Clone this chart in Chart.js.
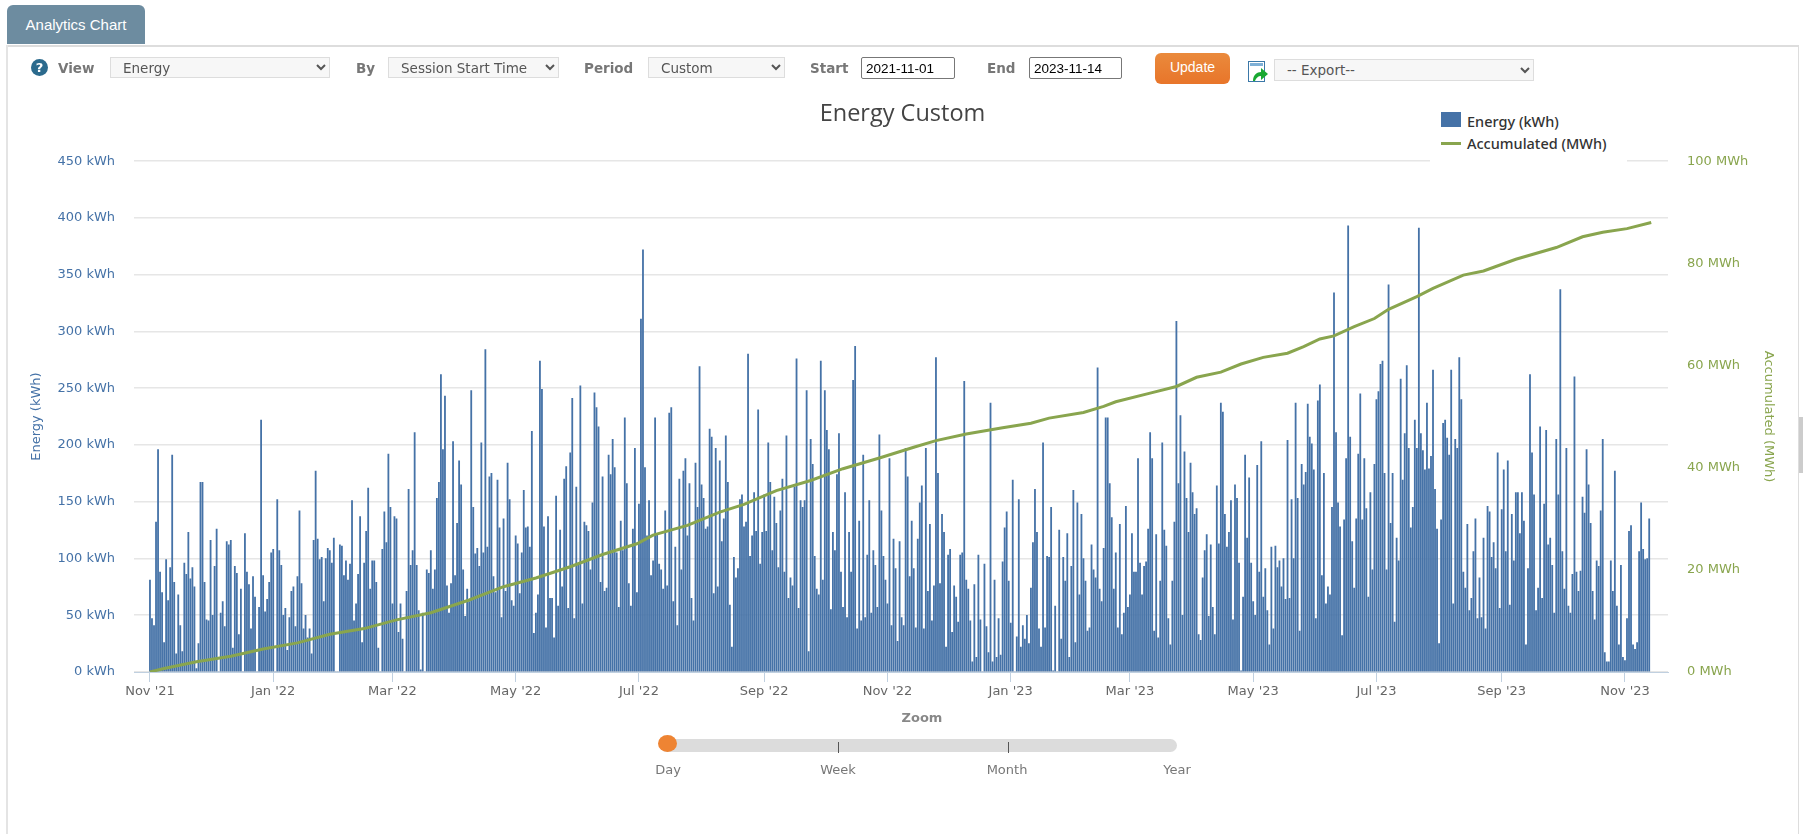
<!DOCTYPE html>
<html>
<head>
<meta charset="utf-8">
<title>Analytics Chart</title>
<script src="https://cdn.jsdelivr.net/npm/chart.js@4/dist/chart.umd.min.js"></script>
<style>
html, body { margin: 0; padding: 0; background: #fff; overflow: hidden; }
body { width: 1803px; height: 834px; position: relative; font-family: "DejaVu Sans", sans-serif; }
#chartCanvas { position: absolute; left: 0; top: 0; }
.abs { position: absolute; }
.tab { left: 7px; top: 5px; width: 138px; height: 39px; background: #6d8ca0; border-radius: 6px 6px 0 0; color: #fff;
       font: 15px/39px "Liberation Sans", sans-serif; text-align: center; }
.rule { left: 7px; top: 45px; width: 1791px; height: 2px; background: #ddd; }
.sideL { left: 6px; top: 45px; width: 2px; height: 789px; background: #e4e4e4; }
.sideR { left: 1798px; top: 45px; width: 1px; height: 789px; background: #ddd; }
.thumb { left: 1799px; top: 417px; width: 4px; height: 56px; background: #ccc; }
.help { left: 31px; top: 59px; width: 17px; height: 17px; border-radius: 50%; background: #2b6a8d; color: #fff;
        font: bold 13px/17px "DejaVu Sans", sans-serif; text-align: center; }
.lbl { top: 59px; font: bold 13.5px/18px "DejaVu Sans", sans-serif; color: #777; }
select { position: absolute; box-sizing: border-box; background: #f7f7f7; border: 1px solid #ddd; color: #555;
         font: 13.5px "DejaVu Sans", sans-serif; padding-left: 8px; border-radius: 0; margin: 0; }
input.date { position: absolute; box-sizing: border-box; top: 57px; height: 22px; border: 1px solid #777; border-radius: 2px;
         font: 13.5px "Liberation Sans", sans-serif; color: #000; padding: 0 4px; margin: 0; }
.update { left: 1155px; top: 53px; width: 75px; height: 31px; border-radius: 6px; color: #fff; text-align: center;
          background: linear-gradient(#ea8a3c, #e8752a); font: 14px/29px "Liberation Sans", sans-serif; }
.legend { left: 1430px; top: 105px; width: 197px; height: 59px; background: #fff; }
.legend .row { position: absolute; left: 37px; font: 500 14.5px/20px "Noto Sans", sans-serif; color: #333; white-space: nowrap; }
.legend .swatch { position: absolute; left: 11px; width: 20px; }
.zoomLabel { left: 822px; width: 200px; top: 709px; text-align: center; font: bold 13px/18px "DejaVu Sans", sans-serif; color: #888; }
.track { left: 660px; top: 739px; width: 517px; height: 13px; background: #dcdcdc; border-radius: 7px; }
.sep { top: 742px; width: 1px; height: 11px; background: #555; }
.knob { left: 658px; top: 735px; width: 19px; height: 17px; border-radius: 50%; background: #ee8433; }
.stop { top: 761px; width: 80px; text-align: center; font: 13px/18px "DejaVu Sans", sans-serif; color: #777; }
</style>
</head>
<body>
<canvas id="chartCanvas" width="1803" height="834"></canvas>

<div class="abs tab">Analytics Chart</div>
<div class="abs rule"></div>
<div class="abs sideL"></div>
<div class="abs sideR"></div>
<div class="abs thumb"></div>

<div class="abs help">?</div>
<div class="abs lbl" style="left:58px">View</div>
<select style="left:110px;top:57px;width:220px;height:21px"><option>Energy</option></select>
<div class="abs lbl" style="left:356px">By</div>
<select style="left:388px;top:57px;width:171px;height:21px"><option>Session Start Time</option></select>
<div class="abs lbl" style="left:584px">Period</div>
<select style="left:648px;top:57px;width:137px;height:21px"><option>Custom</option></select>
<div class="abs lbl" style="left:810px">Start</div>
<input class="date" style="left:861px;width:94px" value="2021-11-01">
<div class="abs lbl" style="left:987px">End</div>
<input class="date" style="left:1029px;width:93px" value="2023-11-14">
<div class="abs update">Update</div>
<svg class="abs" style="left:1248px;top:61px" width="20" height="21" viewBox="0 0 20 21">
  <rect x="0.5" y="0.5" width="16" height="20" fill="#fff" stroke="#3b78a8"/>
  <rect x="2" y="2" width="13" height="3" fill="#7fb0d6"/>
  <path d="M5 20 C5 14 9 11 13 11 L13 7 L20 13 L13 19 L13 15 C10 15 8 17 7 20 Z" fill="#19a832"/>
</svg>
<select style="left:1274px;top:59px;width:260px;height:22px"><option>-- Export--</option></select>

<div class="abs legend" id="legendBox"></div>

<div class="abs zoomLabel">Zoom</div>
<div class="abs track"></div>
<div class="abs sep" style="left:838px"></div>
<div class="abs sep" style="left:1008px"></div>
<div class="abs knob"></div>
<div class="abs stop" style="left:628px">Day</div>
<div class="abs stop" style="left:798px">Week</div>
<div class="abs stop" style="left:967px">Month</div>
<div class="abs stop" style="left:1137px">Year</div>

<script>
// one value per day, day 0 = 2021-11-01
const dailyEnergy = [
    81,47,41,132,196,88,70,26,99,63,92,191,79,16,68,41,18,96,86,123,
    82,92,75,3,25,167,167,79,46,45,116,50,93,126,0,52,62,40,115,112,
    116,21,93,87,33,73,0,122,88,77,38,84,66,0,57,222,85,53,64,79,
    105,108,0,152,107,94,50,56,19,48,71,75,40,84,142,78,38,50,30,38,
    16,116,177,117,99,101,62,100,109,107,96,118,0,0,112,111,85,98,81,95,
    151,45,60,86,137,26,96,124,162,73,98,98,79,21,0,108,141,114,192,145,
    60,137,135,35,60,29,0,71,161,94,107,211,94,54,2,52,0,90,87,107,
    73,90,153,167,262,196,243,76,52,78,203,85,131,186,165,90,49,73,62,248,
    145,104,109,93,202,105,284,110,172,175,84,70,169,127,48,135,71,184,152,63,
    58,120,113,69,105,160,127,128,110,212,34,52,68,274,249,128,39,137,65,65,
    30,155,58,125,75,170,181,56,193,241,47,163,95,252,60,132,129,124,90,149,
    246,233,216,79,172,71,74,191,174,205,180,105,57,133,107,224,166,78,58,126,
    197,70,148,311,372,180,120,151,85,98,224,121,95,90,73,142,76,228,233,62,
    110,41,170,90,177,188,120,166,65,45,184,145,269,165,153,126,128,214,207,69,
    197,75,186,115,135,208,167,59,22,101,83,91,152,156,128,132,280,102,120,158,
    124,231,95,123,156,124,202,167,107,154,131,92,142,170,88,208,65,83,76,163,
    276,56,151,145,151,248,18,205,183,102,73,68,274,81,248,213,196,55,123,107,
    174,210,88,57,158,48,123,88,257,287,38,133,45,191,48,103,151,52,107,94,
    57,209,142,102,81,60,188,41,117,91,27,115,48,41,197,172,84,133,91,39,
    117,149,164,38,197,71,130,45,76,277,175,78,139,123,22,103,108,35,76,66,
    44,103,105,256,81,73,45,9,77,13,103,46,0,95,40,17,237,9,81,13,
    47,15,97,127,141,80,43,169,0,31,152,22,41,29,50,25,74,114,161,123,
    38,22,202,39,102,101,145,1,58,0,125,29,101,80,122,13,93,160,26,149,
    68,139,100,80,36,39,112,90,83,268,73,62,109,224,224,166,136,73,105,39,
    130,33,52,146,57,68,122,88,88,188,96,68,93,97,126,211,188,36,121,30,
    80,202,125,111,47,24,80,132,309,166,226,50,194,153,123,184,158,139,144,33,
    28,83,107,121,49,112,57,33,164,113,237,229,139,110,123,151,46,165,153,96,
    1,66,191,118,171,96,62,50,182,88,203,66,91,54,24,110,38,111,92,98,
    75,100,64,204,65,152,100,237,153,36,183,165,176,236,207,201,178,47,239,253,
    85,175,60,75,68,145,334,211,149,128,32,134,188,393,207,115,74,135,192,245,
    134,188,144,66,158,90,183,240,247,271,274,175,90,341,131,175,44,118,98,258,
    169,210,270,197,127,145,222,197,391,210,195,178,237,179,190,266,161,126,25,134,
    219,222,206,191,266,60,205,197,277,240,88,74,130,54,65,106,135,47,83,48,
    118,38,146,141,101,114,91,193,56,143,178,106,186,59,139,98,158,158,122,158,
    133,24,91,262,193,156,54,74,216,65,148,213,112,118,94,52,205,156,337,106,
    73,197,58,52,86,260,88,71,89,154,140,196,165,131,71,46,98,93,142,205,
    17,9,9,98,71,177,58,24,94,13,10,47,124,129,24,20,26,106,149,108,
    99,100,135
];

// accumulated line
const accumDays = [0,7,23,40,56,73,89,106,122,139,142,158,175,191,208,224,241,249,266,282,294,310,327,343,361,378,389,404,422,436,445,462,472,478,495,508,518,530,540,551,563,571,579,586,596,606,613,627,635,650,660,676,696,709,719,731,743];
const accumMWh = [0,0.7,2.0,3.1,4.5,5.7,7.4,8.5,10.2,11.6,12.0,14.1,16.7,18.4,20.6,23.0,25.1,26.8,28.7,31.3,32.8,35.5,37.5,39.8,41.9,44.0,45.3,46.6,47.8,48.7,49.7,50.8,52.0,52.9,54.6,55.9,57.7,58.7,60.3,61.6,62.4,63.7,65.2,65.8,67.6,69.2,71.0,73.5,75.1,77.7,78.5,80.8,83.1,85.2,86.1,86.8,88.0];

const monthTickDays = [0,61,120,181,242,304,365,426,485,546,607,669,730];
const monthTickLabels = ["Nov '21","Jan '22","Mar '22","May '22","Jul '22","Sep '22","Nov '22","Jan '23","Mar '23","May '23","Jul '23","Sep '23","Nov '23"];
const energyTicks = [0,50,100,150,200,250,300,350,400,450];
const accumTicks = [0,20,40,60,80,100];

const blue = '#4572A7';
const green = '#89A54E';
const tickFont = { family: '"DejaVu Sans", sans-serif', size: 13 };

function setTicks(values) {
    return function(scale) {
        scale.ticks = values.map(function(v) { return { value: v }; });
    };
}

const chart = new Chart(document.getElementById('chartCanvas').getContext('2d'), {
    type: 'bar',
    data: {
        labels: dailyEnergy.map(function(v, i) { return i; }),
        datasets: [{
            type: 'bar',
            label: 'Energy (kWh)',
            data: dailyEnergy,
            backgroundColor: blue,
            barThickness: 1.15,
            yAxisID: 'y',
            order: 2
        }, {
            type: 'line',
            label: 'Accumulated (MWh)',
            data: accumDays.map(function(d, i) { return { x: d, y: accumMWh[i] }; }),
            borderColor: green,
            borderWidth: 3,
            pointRadius: 0,
            tension: 0,
            yAxisID: 'y1',
            order: 1
        }]
    },
    options: {
        responsive: false,
        animation: false,
        layout: { padding: { left: 29, right: 27, top: 0, bottom: 122 } },
        plugins: {
            legend: { display: false },
            tooltip: { enabled: false },
            title: {
                display: true,
                text: 'Energy Custom',
                color: '#444',
                font: { family: '"Open Sans", sans-serif', size: 23.5, weight: 'normal' },
                padding: { top: 100, bottom: 33 }
            }
        },
        scales: {
            x: {
                type: 'linear',
                offset: false,
                min: -7.9,
                max: 751.3,
                afterBuildTicks: setTicks(monthTickDays),
                afterFit: function(scale) { scale.height = 40; },
                grid: { offset: false, drawOnChartArea: false, color: '#C0D0E0', tickLength: 10 },
                border: { color: '#C0D0E0' },
                ticks: {
                    autoSkip: false,
                    maxRotation: 0,
                    color: '#666',
                    font: tickFont,
                    padding: 2,
                    callback: function(value) { return monthTickLabels[monthTickDays.indexOf(value)]; }
                }
            },
            y: {
                position: 'left',
                min: 0,
                max: 450,
                afterBuildTicks: setTicks(energyTicks),
                afterFit: function(scale) { scale.width = 105; },
                grid: { color: '#e6e6e6', lineWidth: 1.5, drawTicks: false },
                border: { display: false },
                title: { display: true, text: 'Energy (kWh)', color: blue, font: tickFont, padding: 0 },
                ticks: {
                    color: blue,
                    font: tickFont,
                    padding: 19,
                    callback: function(value) { return value + ' kWh'; }
                }
            },
            y1: {
                position: 'right',
                min: 0,
                max: 100,
                afterBuildTicks: setTicks(accumTicks),
                afterFit: function(scale) { scale.width = 108; },
                grid: { drawOnChartArea: false, drawTicks: false },
                border: { display: false },
                title: { display: true, text: 'Accumulated (MWh)', color: green, font: tickFont, padding: 0 },
                ticks: {
                    color: green,
                    font: tickFont,
                    padding: 19,
                    callback: function(value) { return value + ' MWh'; }
                }
            }
        }
    }
});

// legend is html so it can sit over the top grid line like the original
const legendBox = document.getElementById('legendBox');
chart.data.datasets.forEach(function(ds, i) {
    const top = 6 + i * 22;
    const swatch = document.createElement('div');
    swatch.className = 'swatch';
    if (ds.type === 'bar') {
        swatch.style.cssText = 'top:' + (top + 1) + 'px;height:15px;background:' + ds.backgroundColor;
    } else {
        swatch.style.cssText = 'top:' + (top + 9) + 'px;height:3px;background:' + ds.borderColor;
    }
    const row = document.createElement('div');
    row.className = 'row';
    row.style.top = top + 'px';
    row.textContent = ds.label;
    legendBox.appendChild(swatch);
    legendBox.appendChild(row);
});
</script>
</body>
</html>
